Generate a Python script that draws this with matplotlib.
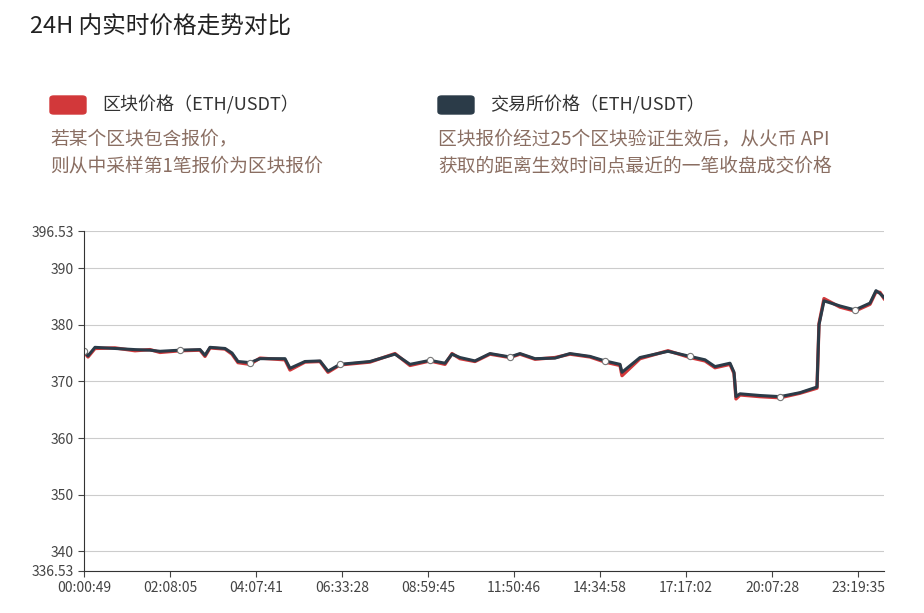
import matplotlib
matplotlib.use('Agg')
import matplotlib.pyplot as plt
from matplotlib.patches import FancyBboxPatch

plt.rcParams['font.family'] = ['Noto Sans CJK SC', 'DejaVu Sans']

# sample position (0..800 along the 24h window) and prices
pos = [0, 4, 11, 31, 51, 66, 76, 96, 116, 121, 126, 141, 148, 154, 166, 176,
       201, 206, 221, 236, 244, 256, 286, 311, 326, 346, 361, 368, 376, 391,
       406, 426, 436, 451, 471, 486, 506, 521, 536, 538, 556, 584, 606, 621,
       631, 646, 650, 652, 656, 676, 696, 716, 733, 735, 740, 756, 771, 786,
       792, 796, 800]
exchange = [375.4, 374.5, 376.0, 375.8, 375.6, 375.5, 375.3, 375.5, 375.6, 374.6,
            376.0, 375.8, 375.0, 373.5, 373.3, 374.0, 374.0, 372.3, 373.5, 373.6,
            371.8, 373.0, 373.5, 374.8, 373.0, 373.7, 373.2, 374.8, 374.2, 373.6,
            374.9, 374.3, 374.9, 374.0, 374.1, 374.9, 374.4, 373.6, 373.0, 371.6,
            374.2, 375.3, 374.4, 373.8, 372.6, 373.2, 371.6, 367.3, 367.8, 367.5,
            367.3, 368.0, 369.0, 380.0, 384.2, 383.3, 382.6, 383.8, 386.0, 385.5,
            384.8]
block = [375.2, 374.3, 375.8, 375.9, 375.4, 375.6, 375.1, 375.4, 375.5, 374.4,
         375.9, 375.7, 374.8, 373.3, 373.0, 374.1, 373.8, 372.0, 373.4, 373.5,
         371.6, 372.9, 373.4, 374.9, 372.8, 373.6, 373.0, 374.9, 374.0, 373.5,
         374.8, 374.2, 374.8, 373.9, 374.2, 374.8, 374.3, 373.4, 372.8, 371.0,
         374.0, 375.4, 374.2, 373.6, 372.4, 373.0, 371.4, 366.9, 367.6, 367.3,
         367.1, 367.9, 368.8, 380.2, 384.6, 383.1, 382.4, 383.6, 385.8, 385.7,
         384.6]
marker_idx = [0, 7, 14, 21, 25, 31, 37, 42, 50, 56]

tick_pos = [0, 86, 172, 258, 344, 430, 516, 602, 688, 774]
tick_labels = ['00:00:49', '02:08:05', '04:07:41', '06:33:28', '08:59:45',
               '11:50:46', '14:34:58', '17:17:02', '20:07:28', '23:19:35']
y_ticks = [336.53, 340, 350, 360, 370, 380, 390, 396.53]

red = '#d2383a'
dark = '#2b3b48'
note = '#8a6e62'

fig = plt.figure(figsize=(9.24, 6.13), dpi=100)
W, H = 924, 613

fig.text(30 / W, 1 - 27 / H, '24H 内实时价格走势对比', fontsize=17, color='#222222', va='center')

for x0, col, label, lines in [
        (50, red, '区块价格（ETH/USDT）', ['若某个区块包含报价，', '则从中采样第1笔报价为区块报价']),
        (438, dark, '交易所价格（ETH/USDT）', ['区块报价经过25个区块验证生效后，从火币 API',
                                       '获取的距离生效时间点最近的一笔收盘成交价格'])]:
    fig.patches.append(FancyBboxPatch((x0 / W, 1 - 114 / H), 36 / W, 18 / H,
                                      boxstyle='round,pad=0,rounding_size=0.004',
                                      transform=fig.transFigure, color=col))
    fig.text((x0 + 52) / W, 1 - 105 / H, label, fontsize=13, color='#333333', va='center')
    fig.text(x0 / W, 1 - 139 / H, lines[0], fontsize=13.5, color=note, va='center')
    fig.text(x0 / W, 1 - 166 / H, lines[1], fontsize=13.5, color=note, va='center')

ax = fig.add_axes([84 / W, 1 - 571 / H, 800 / W, 340 / H])
ax.plot(pos, block, color=red, lw=2.4)
ax.plot(pos, exchange, color=dark, lw=2.2)
ax.plot([pos[i] for i in marker_idx], [exchange[i] for i in marker_idx], 'o',
        ms=4.5, mfc='white', mec='#777777', mew=0.8)

ax.set_xlim(0, 800)
ax.set_ylim(336.53, 396.53)
ax.set_yticks(y_ticks)
ax.set_yticklabels(['336.53', '340', '350', '360', '370', '380', '390', '396.53'])
ax.set_xticks(tick_pos)
ax.set_xticklabels(tick_labels)
ax.tick_params(labelsize=10, colors='#444444', length=4)
ax.grid(axis='y', color='#cccccc', lw=0.8)
ax.set_axisbelow(True)
for s in ['top', 'right']:
    ax.spines[s].set_visible(False)
ax.spines['left'].set_color('#333333')
ax.spines['bottom'].set_color('#333333')

fig.savefig('out.png', dpi=100)
